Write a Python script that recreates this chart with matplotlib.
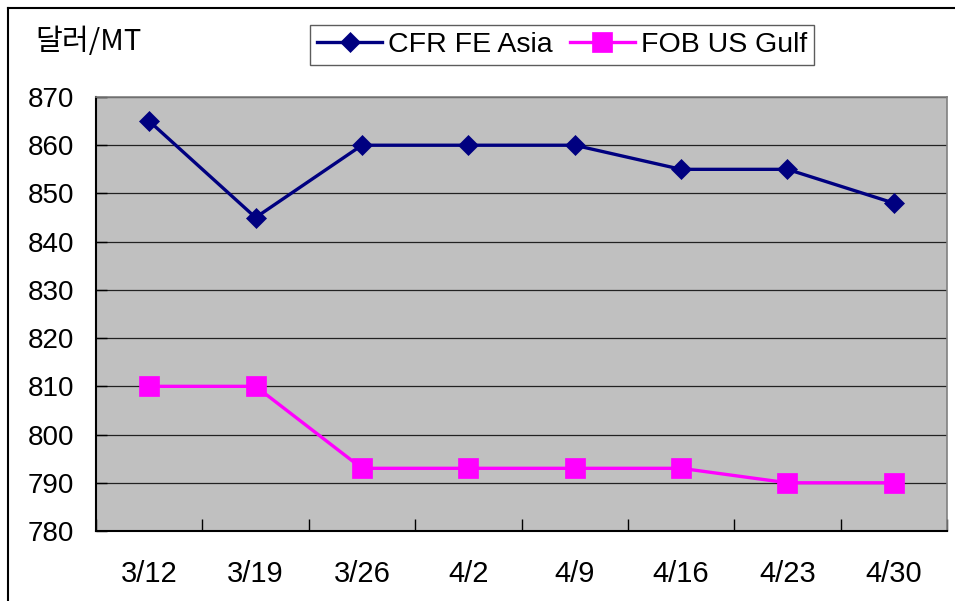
import matplotlib
matplotlib.use("Agg")
import matplotlib.pyplot as plt
from matplotlib.lines import Line2D

plt.rcParams["font.family"] = ["Liberation Sans", "Noto Sans CJK KR", "DejaVu Sans"]

# 데이터
dates = ["3/12", "3/19", "3/26", "4/2", "4/9", "4/16", "4/23", "4/30"]
cfr_fe_asia = [865, 845, 860, 860, 860, 855, 855, 848]
fob_us_gulf = [810, 810, 793, 793, 793, 793, 790, 790]
y_ticks = [780, 790, 800, 810, 820, 830, 840, 850, 860, 870]

W, H = 955, 601
fig = plt.figure(figsize=(W / 100, H / 100), dpi=100)
ax = fig.add_axes([96 / W, 1 - 531 / H, (947 - 96) / W, (531 - 97) / H])
ax.set_facecolor("#C0C0C0")

x = list(range(len(dates)))
l1, = ax.plot(x, cfr_fe_asia, color="#000080", lw=2.4, marker="D",
              markersize=10.5, markeredgewidth=0.5, zorder=3)
l2, = ax.plot(x, fob_us_gulf, color="#FF00FF", lw=2.4, marker="s",
              markersize=14, markeredgewidth=0.5, zorder=3)

ax.set_xlim(-0.5, len(dates) - 0.5)
ax.set_ylim(780, 870)
ax.set_yticks(y_ticks)
ax.yaxis.grid(True, color="#222222", lw=0.9)
ax.set_axisbelow(True)
ax.tick_params(axis="y", direction="in", length=8, width=1, pad=16, labelsize=20)

# x축: 구간 경계에 눈금, 가운데에 라벨
ax.set_xticks([i - 0.5 for i in range(len(dates) + 1)])
ax.set_xticklabels([])
ax.set_xticks(x, minor=True)
ax.set_xticklabels(dates, minor=True)
ax.tick_params(axis="x", which="major", direction="in", length=9, width=1)
ax.tick_params(axis="x", which="minor", length=0, pad=21, labelsize=21)

for s in ["left", "bottom"]:
    ax.spines[s].set_color("black")
    ax.spines[s].set_linewidth(1.5)
for s in ["top", "right"]:
    ax.spines[s].set_color("#808080")
    ax.spines[s].set_linewidth(1.2)

fig.text(35 / W, 1 - 42 / H, "달러/MT", fontsize=21, va="center", ha="left",
         family=["Noto Sans CJK KR", "DejaVu Sans"])

leg = fig.legend([l1, l2], ["CFR FE Asia", "FOB US Gulf"], loc="center",
                 bbox_to_anchor=(562 / W, 1 - 45 / H), ncol=2, fontsize=20.5,
                 frameon=True, fancybox=False, edgecolor="#333333",
                 handlelength=2.3, handletextpad=0.2, columnspacing=0.6,
                 borderpad=0.25, borderaxespad=0)
leg.get_frame().set_linewidth(1.0)

# 그림 테두리 (위, 왼쪽)
fig.add_artist(Line2D([8 / W, 1], [1 - 8 / H, 1 - 8 / H], transform=fig.transFigure,
                      color="black", lw=1.5))
fig.add_artist(Line2D([8 / W, 8 / W], [0, 1 - 8 / H], transform=fig.transFigure,
                      color="black", lw=1.5))

fig.savefig("out.png", dpi=100)
